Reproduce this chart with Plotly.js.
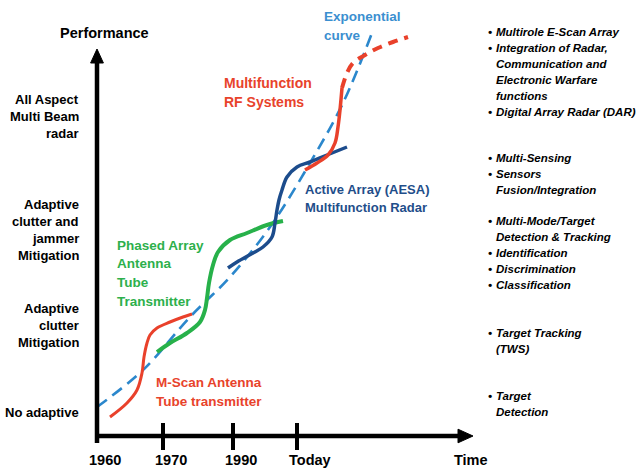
<!DOCTYPE html>
<html>
<head>
<meta charset="utf-8">
<script src="https://cdn.plot.ly/plotly-3.0.1.min.js"></script>
<style>html,body{margin:0;padding:0;background:#fff;}#chart{width:637px;height:471px;}</style>
</head>
<body>
<div id="chart"></div>
<script>
// ---------- DATA (time index, performance index) ----------
const xTickVals = [0, 33, 68, 100];
const xTickText = ['1960', '1970', '1990', 'Today'];

const mscanX = [6.5, 15, 20, 22.5, 23.5, 25, 26.5, 30, 36.5, 43, 47.5];
const mscanY = [9.5, 16.5, 23, 31.5, 39.5, 46.5, 50.5, 54, 57, 59.5, 61];

const phasedX = [30, 36.5, 45, 51.5, 54, 55, 56, 58, 60.5, 66.5, 75, 85, 93];
const phasedY = [42, 46.5, 51.5, 57, 63, 69, 76.5, 85.5, 92, 98, 101.5, 105.5, 107.5];

const aesaX = [65.5, 70, 78, 83, 87.5, 89, 90, 91, 92.5, 95, 100, 106.5, 115, 125];
const aesaY = [84, 87, 91.5, 94.5, 99.5, 106.5, 113, 118, 123, 129.5, 134.5, 137, 140.5, 144.5];

const rfX = [104, 110, 115.5, 119, 120.5, 121.5, 122.5];
const rfY = [133, 136.5, 140.5, 146.5, 154.5, 163, 174];

const rfFutureX = [122.5, 125, 128, 134, 140.5, 148, 155.5];
const rfFutureY = [174, 181.5, 186.5, 190.5, 194, 197, 199.5];

const expX = [0, 23, 46.5, 66.5, 86.5, 106.5, 123, 137.5];
const expY = [14.5, 33, 59.5, 79.5, 104.5, 136.5, 166.5, 201.5];

const yLevelLabels = [
  ['No adaptive'],
  ['Adaptive', 'clutter', 'Mitigation'],
  ['Adaptive', 'clutter and', 'jammer', 'Mitigation'],
  ['All Aspect', 'Multi Beam', 'radar']
];

const capabilityGroups = [
  [['Multirole E-Scan Array'], ['Integration of Radar,', 'Communication and', 'Electronic Warfare', 'functions'], ['Digital Array Radar (DAR)']],
  [['Multi-Sensing'], ['Sensors', 'Fusion/Integration']],
  [['Multi-Mode/Target', 'Detection & Tracking'], ['Identification'], ['Discrimination'], ['Classification']],
  [['Target Tracking', '(TWS)']],
  [['Target', 'Detection']]
];

const curveLabels = [
  {lines: ['Exponential', 'curve'], color: '#3b8fd0'},
  {lines: ['Multifunction', 'RF Systems'], color: '#e8432b'},
  {lines: ['Active Array (AESA)', 'Multifunction Radar'], color: '#1f4e8a'},
  {lines: ['Phased Array', 'Antenna', 'Tube', 'Transmitter'], color: '#2db04c'},
  {lines: ['M-Scan Antenna', 'Tube transmitter'], color: '#e8432b'}
];

// ---------- LAYOUT (pixel placement) ----------
const W = 637, H = 471;
const FONT = 'Liberation Sans, Arial, sans-serif';
const px = v => v / W;            // pixel x -> paper
const py = v => 1 - v / H;        // pixel y -> paper

const annotations = [];
function addText(text, x, y, size, color, anchor, italic) {
  annotations.push({
    xref: 'paper', yref: 'paper', x: px(x), y: py(y),
    text: italic ? '<b><i>' + text + '</i></b>' : '<b>' + text + '</b>',
    showarrow: false, xanchor: anchor, yanchor: 'middle',
    font: {family: FONT, size: size, color: color}
  });
}

// axis titles
addText('Performance', 58, 33, 14.5, '#000', 'left');
addText('Time', 452, 460, 14.5, '#000', 'left');

// x tick labels (anchored slightly left of tick)
xTickVals.forEach((v, i) => addText(xTickText[i], 97 + 2 * v - 10, 460, 14.5, '#000', 'left'));

// y level labels (center pixel y of each block)
const levelCenters = [412, 325, 230, 117];
const levelLine = 17;
yLevelLabels.forEach((lines, i) => {
  const y0 = levelCenters[i] - (lines.length - 1) * levelLine / 2;
  lines.forEach((t, j) => addText(t, 81, y0 + j * levelLine, 13, '#000', 'right'));
});

// right-hand capability bullets
const groupTops = [32, 158, 221, 333, 396];
const bulletLine = 15.9;
capabilityGroups.forEach((group, gi) => {
  let y = groupTops[gi];
  group.forEach(item => {
    item.forEach((t, j) => {
      if (j === 0) addText('•', 486, y, 11.5, '#000', 'left', true);
      addText(t, 494, y, 11.5, '#000', 'left', true);
      y += bulletLine;
    });
  });
});

// curve labels
const labelPos = [
  {x: 322, y: 17, size: 13.5, gap: 19},
  {x: 222, y: 83, size: 14, gap: 19},
  {x: 303, y: 189, size: 13, gap: 18},
  {x: 115, y: 245, size: 13.5, gap: 18.7},
  {x: 154, y: 382, size: 13.5, gap: 19}
];
curveLabels.forEach((c, i) => {
  const p = labelPos[i];
  c.lines.forEach((t, j) => addText(t, p.x, p.y + j * p.gap, p.size, c.color, 'left'));
});

// axes with arrows and crossing ticks (data coords)
const shapes = [
  {type: 'line', xref: 'x', yref: 'y', x0: -1, y0: 0, x1: 183, y1: 0, line: {color: '#000', width: 4.5}},
  {type: 'path', xref: 'x', yref: 'y', path: 'M 180.5,3.4 L 188,0 L 180.5,-3.4 Z', fillcolor: '#000', line: {color: '#000', width: 1}},
  {type: 'line', xref: 'x', yref: 'y', x0: 0, y0: -3.5, x1: 0, y1: 188, line: {color: '#000', width: 4.5}},
  {type: 'path', xref: 'x', yref: 'y', path: 'M -3.2,186.5 L 0,193.5 L 3.2,186.5 Z', fillcolor: '#000', line: {color: '#000', width: 1}}
];
xTickVals.slice(1).forEach(v => shapes.push({
  type: 'line', xref: 'x', yref: 'y', x0: v, y0: -7, x1: v, y1: 6.5, line: {color: '#000', width: 4}
}));

function curve(x, y, color, width, dash) {
  return {x: x, y: y, type: 'scatter', mode: 'lines', hoverinfo: 'skip',
    line: {color: color, width: width, shape: 'spline', smoothing: 1, dash: dash || 'solid'}};
}

const traces = [
  curve(expX, expY, '#2b87cc', 2.6, '12px,7px'),
  curve(mscanX, mscanY, '#e9412b', 3),
  curve(phasedX, phasedY, '#27b14a', 4),
  curve(aesaX, aesaY, '#1c4c8c', 3.5),
  curve(rfX, rfY, '#e9412b', 3.5),
  curve(rfFutureX, rfFutureY, '#e9412b', 4, '10px,7px')
];

const layout = {
  width: W, height: H,
  margin: {l: 0, r: 0, t: 0, b: 0, pad: 0},
  paper_bgcolor: '#fff', plot_bgcolor: '#fff',
  showlegend: false,
  xaxis: {range: [-48.5, 270], visible: false, fixedrange: true},
  yaxis: {range: [-17.5, 218], visible: false, fixedrange: true},
  shapes: shapes,
  annotations: annotations
};

Plotly.newPlot('chart', traces, layout, {staticPlot: true, displayModeBar: false});
</script>
</body>
</html>
